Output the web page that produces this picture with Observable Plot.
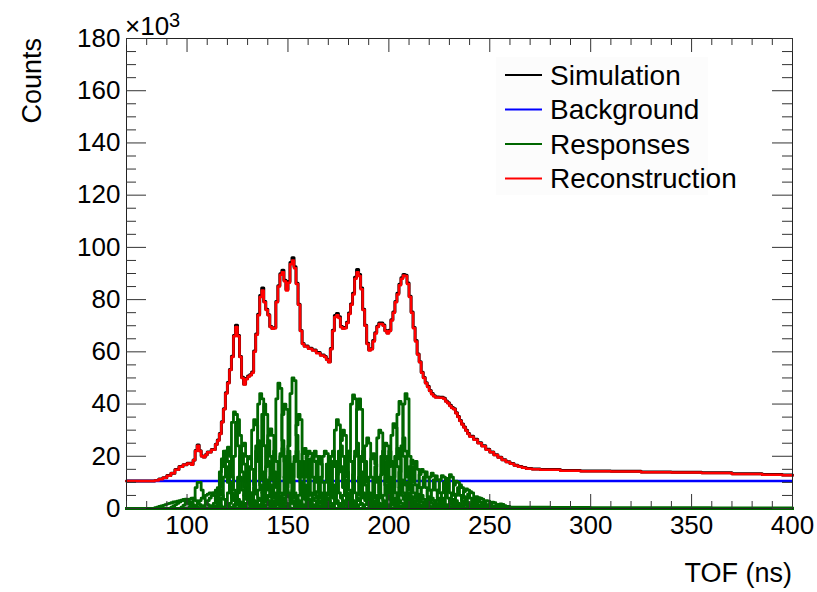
<!DOCTYPE html>
<html><head><meta charset="utf-8">
<script src="https://cdn.jsdelivr.net/npm/d3@7"></script>
<script src="https://cdn.jsdelivr.net/npm/@observablehq/plot@0.6"></script>
<style>body{margin:0;background:#fff;}#chart{width:817px;height:592px;}</style>
</head><body><div id="chart"></div>
<script>
// Reconstruction (red) histogram: bin left edges (ns) and counts (x10^3)
const reconX = [70,84,86,88,90,92,94,96,98,100,102,103,104,105,106,107,108,109,110,112,114,115,116,117,118,119,120,121,122,123,124,125,126,127,128,129,130,131,132,133,134,135,136,137,138,139,140,141,142,143,144,145,146,147,148,149,150,151,152,153,154,155,156,157,158,160,162,164,166,168,169,170,171,172,173,174,175,176,177,178,179,180,181,182,183,184,185,186,187,188,189,190,191,192,193,194,195,196,197,198,199,200,201,202,203,204,205,206,207,208,209,210,211,212,213,214,215,216,217,218,219,220,221,222,223,225,227,228,229,230,231,232,233,234,235,236,237,238,239,240,242,244,246,248,250,252,254,256,258,260,262,264,266,268,271,275,285,295,310,325,340,355,370,385,395,400];
const reconY = [10.5,10.7,11.2,11.8,12.5,13.5,14.8,16,16.8,17.2,16.8,18.5,22,24,22,20,19.6,20.5,21.5,22.5,24.5,26,28.5,33,38,44,48,53,58,66,69.5,66,58,50,47.5,49.5,50.5,51,52,60,66.5,74,81,83.5,79,76,74,69.5,68.8,69,79,85,89.5,90.5,87,83.5,86.5,93.5,95,92,86,78,68,63,62,61.2,60.5,59.5,58.6,58,57,56,61,68,73.3,74,73,69.4,68.8,69,71,74.5,78,82,88,90.5,89,84,76,70,63,60.5,61,64,67,69.5,70.7,70.7,70,68,67,68,72,75,79,82,85.5,88,89.2,89,86,81,75,69,64,59,56,52,50,48,46.5,45,43.8,43,42.5,42.4,42,41,40.3,39.3,38.5,38,36.5,35,33.5,32.2,31,29.8,28.5,27.5,26.3,25,23.8,22.5,21.5,20.5,19.5,18.6,17.8,17.1,16.5,16,15.6,15.2,15,14.8,14.5,14.3,14.2,13.9,13.8,13.6,13.2,12.9,12.7,12.6];
// Simulation (black) histogram, same bins
const simY = [10.5,10.7,11.3,11.8,12.6,13.5,14.9,16.1,16.8,17.3,16.9,18.6,22.2,24.3,22.1,20.1,19.7,20.6,21.6,22.6,24.6,26.2,28.7,33.2,38.2,44.3,48.3,53.2,58.3,66.3,70.2,66.3,58.2,50.3,47.7,49.8,50.7,51.2,52.3,60.3,66.8,74.4,81.6,84.4,79.3,76.3,74.2,69.7,69,69.2,79.3,85.3,89.9,91.2,87.4,83.9,86.9,94.2,96,92.6,86.3,78.2,68.2,63.2,62.2,61.4,60.7,59.7,58.8,58.2,57.2,56.2,61.3,68.3,73.9,74.7,73.4,69.7,69,69.3,71.3,74.9,78.3,82.4,88.6,91.5,89.6,84.4,76.3,70.2,63.3,60.8,61.2,64.3,67.3,69.8,71,71,70.3,68.2,67.3,68.3,72.3,75.3,79.3,82.4,85.9,88.4,89.6,89.3,86.4,81.3,75.3,69.3,64.3,59.2,56.2,52.2,50.2,48.2,46.8,45.2,44,43.2,42.7,42.6,42.2,41.2,40.5,39.5,38.7,38.2,36.7,35.2,33.7,32.4,31.2,30,28.7,27.7,26.5,25.2,24,22.7,21.6,20.6,19.6,18.7,17.9,17.2,16.6,16.1,15.7,15.3,15.1,14.9,14.6,14.4,14.3,14,13.9,13.7,13.3,13,12.8,12.7];
// Background (blue), constant level (x10^3)
const backgroundLevel = 10.5;
// Responses (green): first bin (ns), 1-ns bin counts (x10^3)
const responseStarts = [84,92,97,101,104,108,112,114,116,119,121,123,124,127,129,131,132,134,136,137,139,141,143,144,146,148,150,151,154,156,158,159,161,164,166,168,170,172,173,176,178,180,181,183,185,188,191,193,194,196,198,200,201,203,204,207,209,212,214,217,219,222,224,226,229,231,234,236,239,241,244,247,251];
const responseValues = [
  [0.3,0.5,0.8,1,1.2,1.5,1.8,2,2.2,2.5,2.6,2.8,3,3.2,3,2.6,2,1.5,1,0.6,0.3],
  [0.5,1,1.5,2,2.5,3,3.5,3.6,3.2,2.5,1.8,1.2,0.8,0.4],
  [0.5,1.2,2,3,3.6,4,3.8,3,2.2,1.5,1,0.5],
  [0.5,1.5,4,8,10,10,7,4,2.5,1.5,1,0.6,0.3],
  [1,2,3,4,4.5,5,5.5,6,6,5,3.5,2.2,1.2,0.6],
  [1,2,3,4,5,6,7,7.5,7,5,3.5,2,1,0.5],
  [1,2,4,8,14,19,20,16,10,6,4,3,2,1.2,0.6],
  [1,3,8,16,22,22,18,10,6,4,3,2,1.2,0.6],
  [1,4,12,22,23.5,20,12,7,5,3.5,2.5,1.5,0.8],
  [2,6,18,33,37,36,24,12,7,5,3.5,2.2,1.2,0.6],
  [2,8,20,33,34,28,14,8,5.5,4,2.8,1.8,0.9],
  [1.5,5,12,20,21,17,10,6,4,3,2,1],
  [1.5,6,14,24,25,20,11,6,4,3,2,1],
  [1.5,5,12,19,20,15,9,5.5,4,3,2,1],
  [2,6,16,30,34,32,18,9,6,4,2.5,1.5],
  [2,6,14,24,26,20,11,6.5,4.5,3,2,1],
  [2,8,22,40,44,42,24,11,7,4.5,3,1.5],
  [2,7,20,36,40,36,18,9,6,4,2.5,1.2],
  [1.5,6,14,24,26,20,11,6,4,3,2,1],
  [2,6,16,28,30.5,28,14,8,5,3.5,2.2,1.1],
  [1.5,5,12,20,22,18,10,6,4,3,2,1],
  [2,8,22,42,48,46,26,12,7,4.5,3,2,1],
  [1.5,5,12,21,23,18,10,6,4,3,2,1],
  [2,7,20,36,40,38,20,10,6,4,2.5,1.2],
  [1.5,5,12,20,22,17,10,6,4,3,2,1],
  [2,8,24,44,50,49,28,12,7,5,3.5,2,1],
  [1.5,5,12,20,22,18,10,6,4,3,2,1],
  [2,7,18,32,36,34,18,9,5.5,3.5,2.5,1.5,0.8],
  [1.5,5,12,21,23,19,11,6,4,3,2,1],
  [1.5,5,12,20,22,21,12,6.5,4,3,2,1],
  [1.5,5,12,19,21,18,10,6,4,3,2,1],
  [1.5,5,12,20,22,20,11,6,4,3,2,1],
  [1.5,5,11,18,20,17,10,6,4,3,2,1],
  [1.5,5,12,20,22,21,12,6.5,4,3,2,1],
  [1,4,10,17,20,18,9,5,3,2,1],
  [1.5,5,12,20,22,18,10,6,4,3,2,1],
  [2,6,16,30,34,32,16,8,5,3.5,2.5,1.2],
  [1.5,5,13,22,24,20,11,6,4,3,2,1],
  [2,6,14,26,30,28,14,7,5,3,2,1],
  [1.5,5,12,20,22,18,10,6,4,3,2,1],
  [2,8,22,40,43.5,42,22,10,6,4,3,1.5],
  [1.5,5,13,22,25,20,11,6,4,3,2,1],
  [2,7,20,38,42,38,18,9,5,3.5,2.5,1.2],
  [1.5,5,12,20,22,18,10,6,4,3,2,1],
  [1.5,6,14,24,27,25,12,6,4,3,2,1],
  [1.5,5,12,19,21,17,10,6,4,3,2,1],
  [2,6,16,27,30,29,18,9,5,3.5,2.5,1.2],
  [1.5,5,12,20,22,19,10,6,4,3,2,1],
  [1.5,5,13,22,25,24,12,6,4,3,2,1],
  [1.5,5,12,20,22,18,10,6,4,3,2,1],
  [2,6,16,28,32.5,31,16,8,5,3.5,2.5,1.2],
  [1.5,5,12,20,23,19,11,6,4,3,2,1],
  [2,8,20,36,41,40,20,9,6,4,2.5,1.2],
  [1.5,6,14,24,27,22,12,7,4.5,3,2,1],
  [2,8,22,40,44,42,20,9,6,4,3,1.5],
  [1,4,10,16,18.5,17,9,5.5,3.5,2.5,1.5,0.8],
  [1,4,10,16,18,15,8,5,3.5,2.5,1.5,0.8],
  [1,3,8,13,15,14,8,4.5,3,2,1.2,0.6],
  [1,3,8,12,14,12,7,4,3,2,1.2,0.6],
  [1,3,7,12,13.5,12.5,7,4,2.5,1.5,1,0.5],
  [1,3,7,11,12.5,11,6,4,2.5,1.5,1,0.5],
  [0.8,3,7,11,12.6,12,6.5,4,2.5,1.5,1,0.5],
  [0.8,2.5,6,10,11.5,10,6,3.5,2.2,1.4,0.8,0.4],
  [0.8,3,7,11,13,12,5.5,3,2,1.2,0.7,0.3],
  [0.6,2,5,9,10.5,10,5,3,2,1.2,0.7,0.3],
  [0.6,2,5,8,9,8,4.5,2.8,1.8,1.1,0.6,0.3],
  [0.5,1.5,4,6.5,7.5,7,4,2.2,1.5,1,0.6,0.3],
  [0.5,1.5,3.5,5.5,6.5,6,3.5,2,1.3,0.8,0.5,0.3],
  [0.4,1.2,2.5,4,4.5,4.2,2.4,1.5,1,0.6,0.3],
  [0.4,1.1,2.2,3.5,4,3.6,2.2,1.4,0.9,0.5,0.3],
  [0.3,1,2,2.8,3,2.8,1.7,1,0.6,0.3],
  [0.3,0.8,1.5,2.2,2.4,2.2,1.4,0.9,0.5,0.3],
  [0.3,0.6,1.1,1.6,1.8,1.6,1.1,0.7,0.4,0.2]
];
// Long low response tail
const tailX = [248,260,280,300,330,360,400];
const tailY = [0.8,0.5,0.4,0.3,0.3,0.2,0.2];

const xMajorTicks = [100,150,200,250,300,350,400];
const yMajorTicks = [0,20,40,60,80,100,120,140,160,180];
const legendLabels = ["Simulation","Background","Responses","Reconstruction"];
const legendColors = ["#000000","#0000ff","#006600","#ff0000"];

const W = 817, H = 592, mL = 126, mR = 25, mT = 38, mB = 84;
const fw = W - mL - mR, fh = H - mT - mB;
const GREEN = "#006600";

const recon = reconX.map((x,i)=>({x, y: reconY[i]}));
const sim = reconX.map((x,i)=>({x, y: simY[i]}));
const resp = [];
responseStarts.forEach((s,k)=>{
  resp.push({id:k, x:70, y:0});
  responseValues[k].forEach((v,i)=>resp.push({id:k, x:s+i, y:v}));
  resp.push({id:k, x:s+responseValues[k].length, y:0});
  resp.push({id:k, x:400, y:0});
});
const tail = [{x:70,y:0}].concat(tailX.map((x,i)=>({x, y:tailY[i]})));

const xMinor = d3.range(70, 401, 10).filter(v=>!xMajorTicks.includes(v));
const yMinor = d3.range(0, 181, 5).filter(v=>!yMajorTicks.includes(v));
const tickColor = "#333";

const svg = Plot.plot({
  width: W, height: H,
  marginLeft: mL, marginRight: mR, marginTop: mT, marginBottom: mB,
  style: {fontFamily: "'Liberation Sans', Arial, sans-serif", fontSize: "25px", color: "#000", background: "#fff"},
  x: {domain: [70, 400]},
  y: {domain: [0, 180]},
  marks: [
    Plot.line(sim, {x:"x", y:"y", curve:"step-after", stroke:"#000", strokeWidth:3}),
    Plot.ruleY([backgroundLevel], {stroke:"#0000ff", strokeWidth:2.5}),
    Plot.line(resp, {x:"x", y:"y", z:"id", curve:"step-after", stroke:GREEN, strokeWidth:2.8}),
    Plot.line(tail, {x:"x", y:"y", curve:"step-after", stroke:GREEN, strokeWidth:2.8}),
    Plot.line(recon, {x:"x", y:"y", curve:"step-after", stroke:"#ff0000", strokeWidth:2.5}),
    Plot.frame({stroke:"#222", strokeWidth:1}),
    Plot.tickX(xMajorTicks, {x:d=>d, insetTop: fh-14, stroke:tickColor}),
    Plot.tickX(xMinor, {x:d=>d, insetTop: fh-7, stroke:tickColor}),
    Plot.tickX(xMajorTicks, {x:d=>d, insetBottom: fh-14, stroke:tickColor}),
    Plot.tickX(xMinor, {x:d=>d, insetBottom: fh-7, stroke:tickColor}),
    Plot.tickY(yMajorTicks, {y:d=>d, insetRight: fw-20, stroke:tickColor}),
    Plot.tickY(yMinor, {y:d=>d, insetRight: fw-10, stroke:tickColor}),
    Plot.tickY(yMajorTicks, {y:d=>d, insetLeft: fw-20, stroke:tickColor}),
    Plot.tickY(yMinor, {y:d=>d, insetLeft: fw-10, stroke:tickColor}),
    Plot.axisX({ticks: xMajorTicks, tickSize: 0, tickPadding: 7, tickFormat: d=>String(d), label: null, fontSize: 26}),
    Plot.axisY({ticks: yMajorTicks, tickSize: 0, tickPadding: 6, tickFormat: d=>String(d), label: null, fontSize: 26})
  ]
});
document.getElementById("chart").appendChild(svg);

const s = d3.select(svg);
const ff = "'Liberation Sans', Arial, sans-serif";
// axis titles
s.append("text").attr("x", 792).attr("y", 582).attr("text-anchor","end")
  .attr("font-family", ff).attr("font-size", 27).attr("fill","#000").text("TOF (ns)");
s.append("text").attr("transform","translate(41,38) rotate(-90)").attr("text-anchor","end")
  .attr("font-family", ff).attr("font-size", 27).attr("fill","#000").text("Counts");
// x10^3 multiplier
const m = s.append("text").attr("x", 125).attr("y", 35).attr("text-anchor","start")
  .attr("font-family", ff).attr("font-size", 26).attr("fill","#000");
m.append("tspan").text("×10");
m.append("tspan").attr("font-size", 20).attr("dy", -8).text("3");
// legend
const lg = s.append("g");
lg.append("rect").attr("x", 496).attr("y", 57).attr("width", 212).attr("height", 138).attr("fill", "#fcfcfc");
legendLabels.forEach((lab, i)=>{
  const yy = 75 + i*34.5;
  lg.append("line").attr("x1", 505).attr("x2", 542).attr("y1", yy).attr("y2", yy)
    .attr("stroke", legendColors[i]).attr("stroke-width", 2);
  lg.append("text").attr("x", 550).attr("y", yy).attr("dy","0.35em").attr("text-anchor","start")
    .attr("font-family", ff).attr("font-size", 28).attr("fill","#000").text(lab);
});
</script></body></html>
